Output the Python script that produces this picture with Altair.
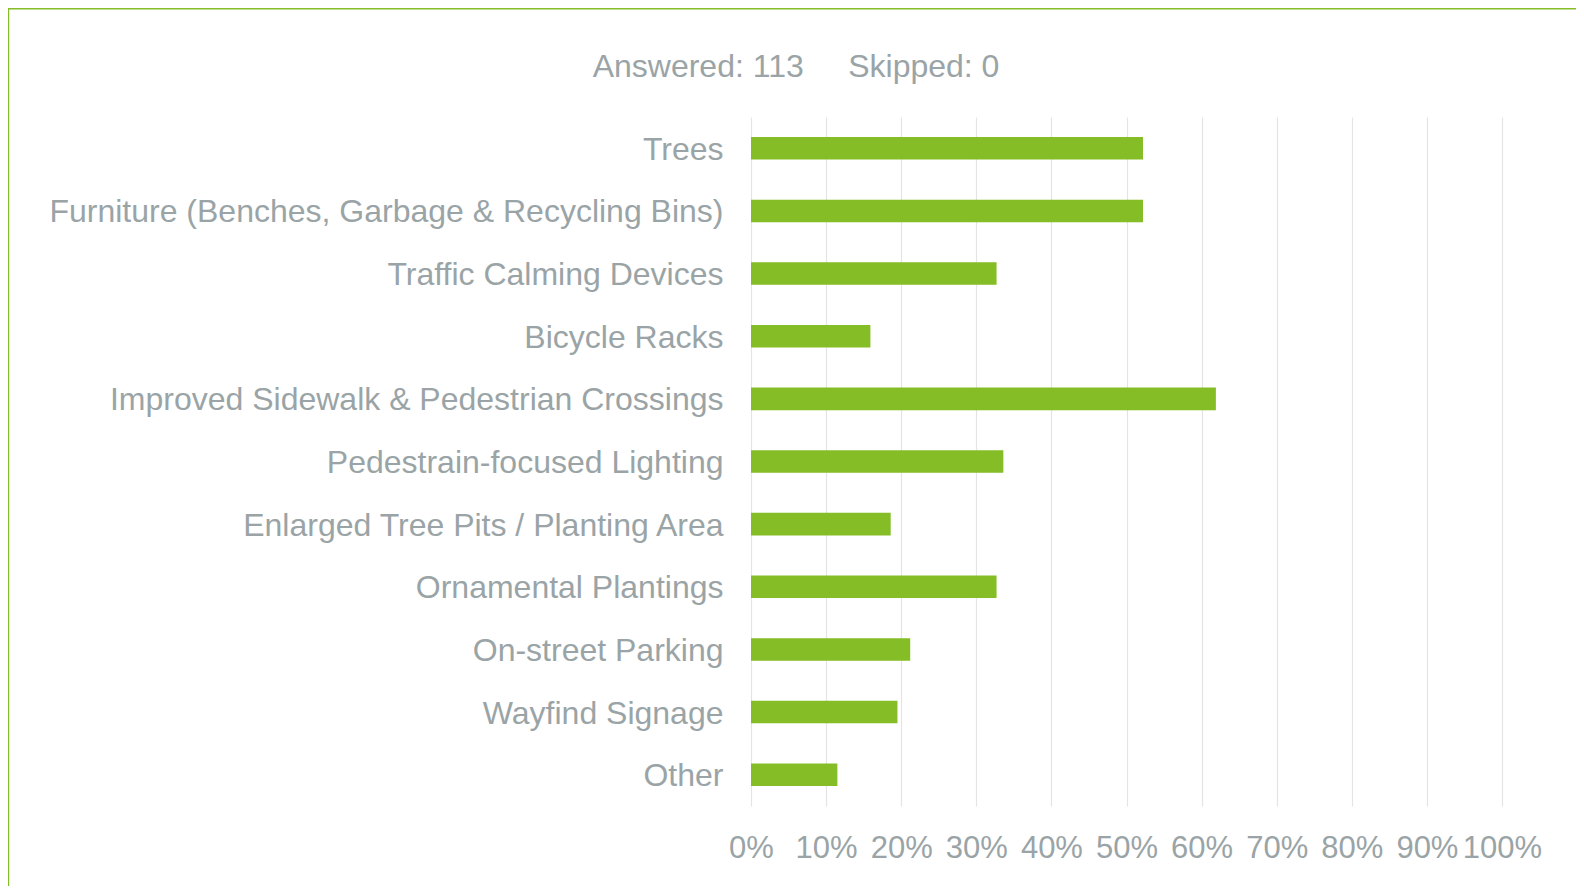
import altair as alt
import pandas as pd

categories = [
    "Trees",
    "Furniture (Benches, Garbage & Recycling Bins)",
    "Traffic Calming Devices",
    "Bicycle Racks",
    "Improved Sidewalk & Pedestrian Crossings",
    "Pedestrain-focused Lighting",
    "Enlarged Tree Pits / Planting Area",
    "Ornamental Plantings",
    "On-street Parking",
    "Wayfind Signage",
    "Other",
]
percents = [52.2, 52.2, 32.7, 15.9, 61.9, 33.6, 18.6, 32.7, 21.2, 19.5, 11.5]
x_ticks = [0, 10, 20, 30, 40, 50, 60, 70, 80, 90, 100]
header = ["Answered: 113\u00a0\u00a0\u00a0\u00a0\u00a0Skipped: 0"]

GREEN = "#84bd25"
GRAY = "#9aa4a6"
FONT = "Liberation Sans"

df = pd.DataFrame({"label": categories, "pct": percents})

bars = alt.Chart(df).mark_bar(color=GREEN).encode(
    y=alt.Y(
        "label:N",
        sort=categories,
        title=None,
        scale=alt.Scale(paddingInner=0.64, paddingOuter=0.32),
        axis=alt.Axis(
            domain=False, ticks=False, tickSize=0, grid=False,
            labelFont=FONT, labelFontSize=32, labelColor=GRAY,
            labelPadding=28, labelLimit=900, labelOffset=1.5,
        ),
    ),
    x=alt.X(
        "pct:Q",
        title=None,
        scale=alt.Scale(domain=[0, 100], nice=False),
        axis=alt.Axis(
            values=x_ticks, labelExpr="datum.value + '%'",
            domain=False, ticks=False, tickSize=0,
            grid=True, gridColor="#e4e4e4", gridWidth=1.2,
            labelFont=FONT, labelFontSize=31, labelColor=GRAY,
            labelPadding=27, labelFlush=False, labelOverlap=False,
        ),
    ),
)

head = alt.Chart(pd.DataFrame({"t": header})).mark_text(
    font=FONT, fontSize=32, color=GRAY, align="center", baseline="alphabetic"
).encode(text="t:N", x=alt.value(45), y=alt.value(-40))

frame_df = pd.DataFrame({"k": [0]})
top_line = alt.Chart(frame_df).mark_rule(color=GREEN, strokeWidth=1.6).encode(
    x=alt.value(-743), x2=alt.value(830), y=alt.value(-108.2)
)
left_line = alt.Chart(frame_df).mark_rule(color=GREEN, strokeWidth=1.6).encode(
    x=alt.value(-742.6), y=alt.value(-109), y2=alt.value(780)
)

chart = alt.layer(bars, head, top_line, left_line).properties(
    width=751,
    height=689,
    autosize=alt.AutoSizeParams(type="none"),
    padding={"left": 743, "top": 109, "right": 74, "bottom": 80},
    background="white",
).configure_view(stroke=None)

chart.save("out.html", embed_options={"renderer": "svg", "actions": False})
